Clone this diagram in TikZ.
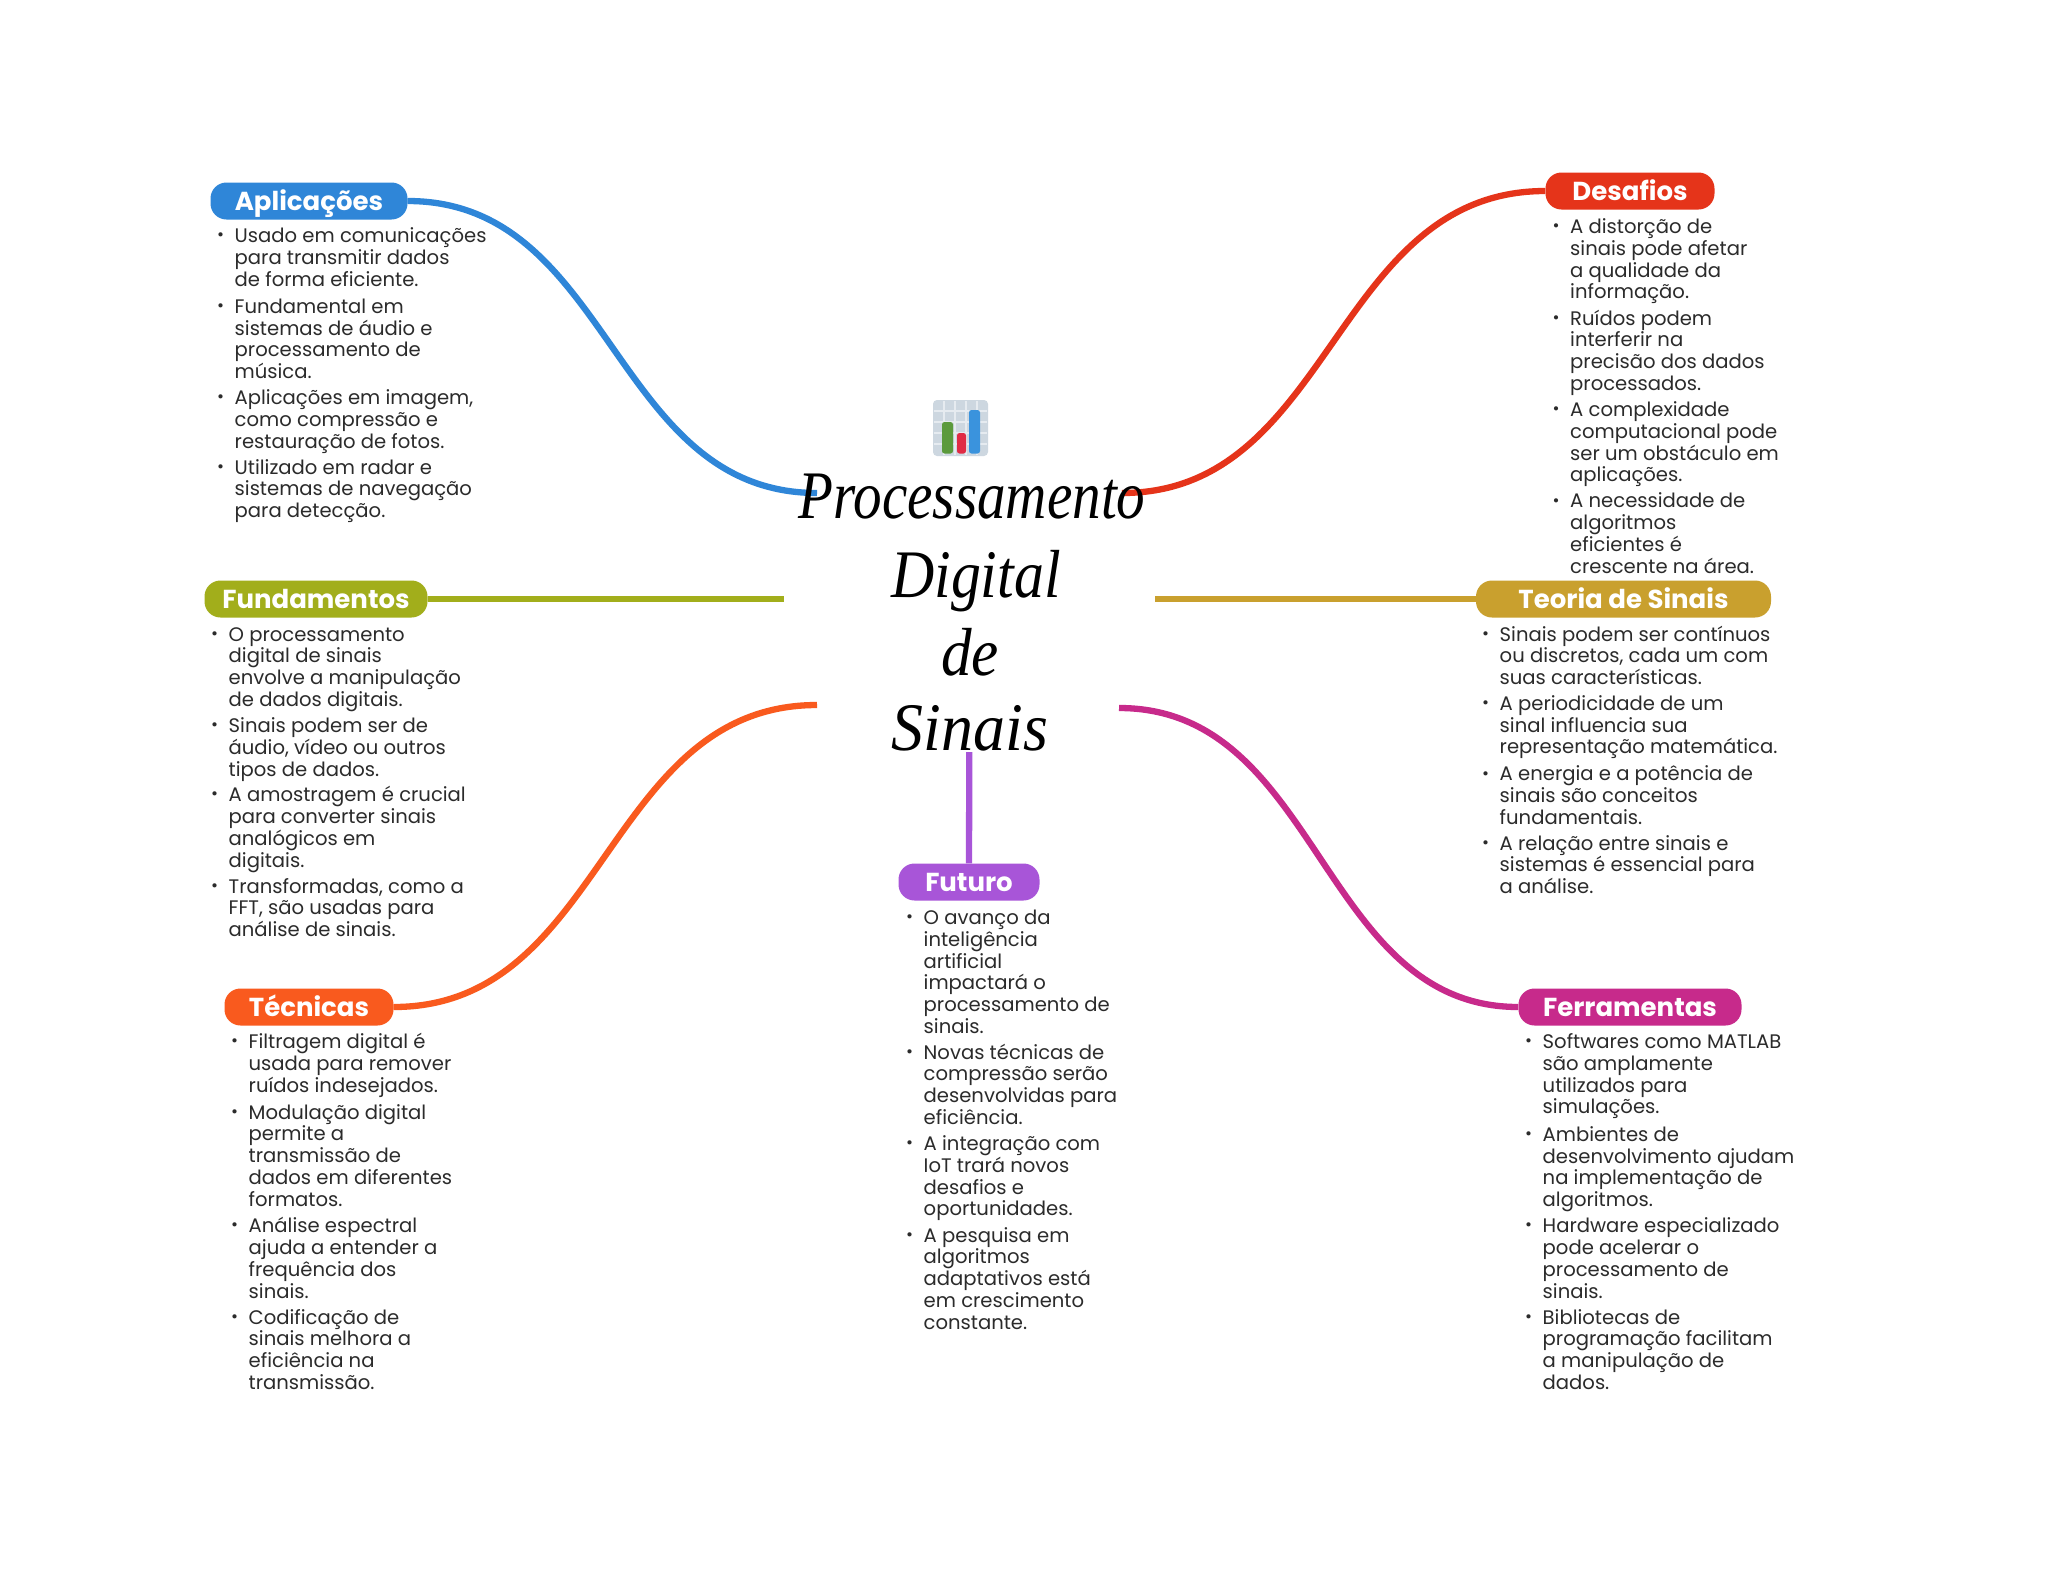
\documentclass[tikz,border=0pt]{standalone}
\usepackage{fontspec}
\usepackage{graphicx}
\setmainfont{Poppins}
\newfontfamily\titlefont{Liberation Serif}
\definecolor{cblue}{HTML}{2F86D8}
\definecolor{cred}{HTML}{E5341A}
\definecolor{colive}{HTML}{A2AE1B}
\definecolor{cgold}{HTML}{C9A02E}
\definecolor{corange}{HTML}{F95A1E}
\definecolor{cmag}{HTML}{C72A8B}
\definecolor{cpurp}{HTML}{A855D8}
\definecolor{ctext}{HTML}{2B2B2B}
\definecolor{icbg}{RGB}{205,215,224}
\definecolor{icgrid}{RGB}{230,235,240}
\definecolor{icgreen}{RGB}{91,154,60}
\definecolor{icred}{RGB}{224,43,69}
\definecolor{icblue}{RGB}{58,147,221}
\tikzset{
  x=1pt,y=-1pt,
  pill/.style={rounded corners=16pt,minimum height=37pt,inner sep=0pt,text=white,font=\fontsize{26}{26}\selectfont\bfseries,text height=18.5pt,text depth=0pt,anchor=center},
  branch/.style={line width=6.3pt,line cap=butt},
  body/.style={anchor=north west,inner sep=0pt,text=ctext,font=\fontsize{19.6}{21.75}\selectfont,align=left},
  dot/.style={anchor=center,inner sep=0pt,text=ctext,font=\fontsize{17}{17}\selectfont},
  ttl/.style={anchor=base,inner sep=0pt,font=\titlefont\itshape\fontsize{68}{68}\selectfont},
}
\newcommand{\itm}[4]{\node[dot] (#1b) at (#2-14,#3+2) {•}; \node[body] (#1) at (#2,#3-12) {\rule{0pt}{19.5pt}#4};}
\begin{document}
\begin{tikzpicture}
\useasboundingbox (0,0) rectangle (2048,1569);
\fill[white] (0,0) rectangle (2048,1569);
% pills
\node[pill,fill=cblue,minimum width=197pt] (apl) at (309,201) {Aplicações};
\node[pill,fill=cred,minimum width=169pt] (des) at (1630,191) {Desafios};
\node[pill,fill=colive,minimum width=223pt] (fun) at (316,599) {Fundamentos};
\node[pill,fill=cgold,minimum width=295pt] (teo) at (1623.5,599) {Teoria de Sinais};
\node[pill,fill=corange,minimum width=169pt] (tec) at (309,1007) {Técnicas};
\node[pill,fill=cmag,minimum width=223pt] (fer) at (1630,1007) {Ferramentas};
\node[pill,fill=cpurp,minimum width=141pt] (fut) at (969,882) {Futuro};
\coordinate (a1) at (817,493);
\coordinate (b1) at (1122,493);
\coordinate (c1) at (784,599);
\coordinate (d1) at (1155,599);
\coordinate (e1) at (817,705);
\coordinate (f1) at (1119,708);
\coordinate (g1) at (969.3,752);
\draw[branch,cblue] (apl.east) .. controls (612,201) and (612,493) .. (a1);
\draw[branch,cred] (des.west) .. controls (1333,191) and (1333,493) .. (b1);
\draw[branch,colive] (fun.east) -- (c1);
\draw[branch,cgold] (teo.west) -- (d1);
\draw[branch,corange] (tec.east) .. controls (605,1007) and (605,705) .. (e1);
\draw[branch,cmag] (fer.west) .. controls (1320,1007) and (1320,708) .. (f1);
\draw[branch,cpurp] (fut.north) -- (g1);
% icon
\fill[rounded corners=4pt,icbg] (933,400) rectangle (988,456);
\foreach \gx in {944,955,966,977} \draw[icgrid,line width=1.4pt] (\gx,401) -- (\gx,455);
\foreach \gy in {411,422,433,444} \draw[icgrid,line width=1.4pt] (934,\gy) -- (987,\gy);
\fill[rounded corners=2.5pt,icgreen] (942,422) rectangle (953,453.5);
\fill[rounded corners=2.5pt,icred] (957,433) rectangle (966,453.5);
\fill[rounded corners=2.5pt,icblue] (969,410) rectangle (980,453.5);
% title
\node[ttl] (t1) at (972,518) {\scalebox{0.84}[1]{Processamento}};
\node[ttl] (t2) at (976,597) {\scalebox{0.88}[1]{Digital}};
\node[ttl] (t3) at (970,675) {\scalebox{0.9}[1]{de}};
\node[ttl] (t4) at (970,750) {\scalebox{0.94}[1]{Sinais}};
% Aplicacoes
\itm{a}{234.5}{235.1}{Usado em comunicações\\para transmitir dados\\de forma eficiente.}
\itm{aa}{234.5}{305.6}{Fundamental em\\sistemas de áudio e\\processamento de\\música.}
\itm{ab}{234.5}{397}{Aplicações em imagem,\\como compressão e\\restauração de fotos.}
\itm{ac}{234.5}{466.3}{Utilizado em radar e\\sistemas de navegação\\para detecção.}
% Desafios
\itm{d}{1570}{226}{A distorção de\\sinais pode afetar\\a qualidade da\\informação.}
\itm{da}{1570}{317.4}{Ruídos podem\\interferir na\\precisão dos dados\\processados.}
\itm{db}{1570}{408.8}{A complexidade\\computacional pode\\ser um obstáculo em\\aplicações.}
\itm{dc}{1570}{500.2}{A necessidade de\\algoritmos\\eficientes é\\crescente na área.}
% Fundamentos
\itm{f}{228.5}{633.5}{O processamento\\digital de sinais\\envolve a manipulação\\de dados digitais.}
\itm{fa}{228.5}{724.9}{Sinais podem ser de\\áudio, vídeo ou outros\\tipos de dados.}
\itm{fb}{228.5}{794.1}{A amostragem é crucial\\para converter sinais\\analógicos em\\digitais.}
\itm{fc}{228.5}{885.5}{Transformadas, como a\\FFT, são usadas para\\análise de sinais.}
% Teoria
\itm{t}{1499.5}{633.5}{Sinais podem ser contínuos\\ou discretos, cada um com\\suas características.}
\itm{ta}{1499.5}{702.7}{A periodicidade de um\\sinal influencia sua\\representação matemática.}
\itm{tb}{1499.5}{773.2}{A energia e a potência de\\sinais são conceitos\\fundamentais.}
\itm{tc}{1499.5}{842.4}{A relação entre sinais e\\sistemas é essencial para\\a análise.}
% Tecnicas
\itm{c}{248.5}{1041}{Filtragem digital é\\usada para remover\\ruídos indesejados.}
\itm{ca}{248.5}{1111.5}{Modulação digital\\permite a\\transmissão de\\dados em diferentes\\formatos.}
\itm{cb}{248.5}{1225.1}{Análise espectral\\ajuda a entender a\\frequência dos\\sinais.}
\itm{cc}{248.5}{1316.5}{Codificação de\\sinais melhora a\\eficiência na\\transmissão.}
% Ferramentas
\itm{r}{1542.5}{1041}{Softwares como MATLAB\\são amplamente\\utilizados para\\simulações.}
\itm{ra}{1542.5}{1133.7}{Ambientes de\\desenvolvimento ajudam\\na implementação de\\algoritmos.}
\itm{rb}{1542.5}{1225.1}{Hardware especializado\\pode acelerar o\\processamento de\\sinais.}
\itm{rc}{1542.5}{1316.5}{Bibliotecas de\\programação facilitam\\a manipulação de\\dados.}
% Futuro
\itm{u}{923.5}{916.9}{O avanço da\\inteligência\\artificial\\impactará o\\processamento de\\sinais.}
\itm{ua}{923.5}{1051.4}{Novas técnicas de\\compressão serão\\desenvolvidas para\\eficiência.}
\itm{ub}{923.5}{1142.8}{A integração com\\IoT trará novos\\desafios e\\oportunidades.}
\itm{uc}{923.5}{1234.3}{A pesquisa em\\algoritmos\\adaptativos está\\em crescimento\\constante.}
\end{tikzpicture}
\end{document}
